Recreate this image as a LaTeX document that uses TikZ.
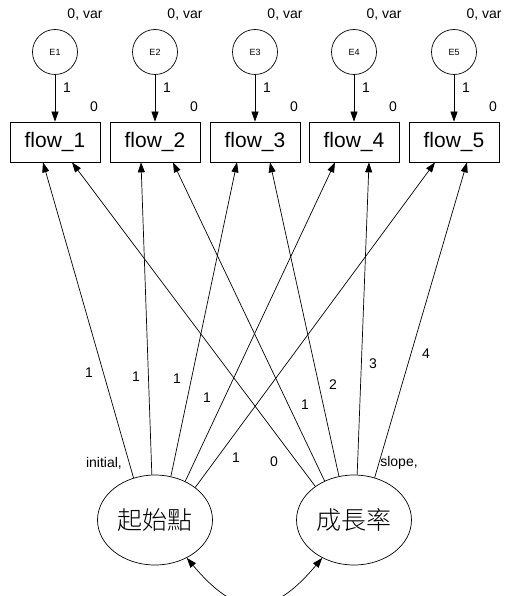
\documentclass[tikz,border=0pt]{standalone}
\usepackage{fontspec}
\setmainfont{Liberation Sans}
\newfontfamily\cjk{Noto Sans CJK TC}[UprightFont={* Light}]
\usetikzlibrary{arrows.meta,shapes.geometric}

\tikzstyle{obsbox} = [draw=black, rectangle, minimum width=90pt, minimum height=40pt, inner sep=0pt, font=\fontsize{21}{21}\selectfont]
\tikzstyle{errcirc} = [draw=black, circle, minimum size=45pt, inner sep=0pt, font=\fontsize{9}{9}\selectfont]
\tikzstyle{latent} = [draw=black, ellipse, minimum width=115pt, minimum height=90pt, inner sep=0pt, font=\cjk\fontsize{25}{25}\selectfont]
\tikzstyle{lbl} = [inner sep=0pt, font=\fontsize{14}{14}\selectfont]
\tikzstyle{regline} = [-{Triangle[length=10pt,width=7pt]}]
\tikzstyle{covline} = [{Triangle[length=10pt,width=7pt]}-{Triangle[length=10pt,width=7pt]}]

\begin{document}
\begin{tikzpicture}[x=1pt, y=1pt, line width=0.7pt]
\useasboundingbox (0,0) rectangle (504,-596);

% error terms
\node[errcirc] (e1) at (55,-52) {E1};
\node[errcirc] (e2) at (155,-52) {E2};
\node[errcirc] (e3) at (255,-52) {E3};
\node[errcirc] (e4) at (354,-52) {E4};
\node[errcirc] (e5) at (454,-52) {E5};
\node[lbl] (v1) at (85,-15) {0, var};
\node[lbl] (v2) at (185,-15) {0, var};
\node[lbl] (v3) at (285,-15) {0, var};
\node[lbl] (v4) at (384,-15) {0, var};
\node[lbl] (v5) at (484,-15) {0, var};

% observed flows
\node[obsbox] (f1) at (55,-142) {flow\_1};
\node[obsbox] (f2) at (155,-142) {flow\_2};
\node[obsbox] (f3) at (255,-142) {flow\_3};
\node[obsbox] (f4) at (354,-142) {flow\_4};
\node[obsbox] (f5) at (454,-142) {flow\_5};
\node[lbl] (m1) at (94,-107) {0};
\node[lbl] (m2) at (194,-107) {0};
\node[lbl] (m3) at (294,-107) {0};
\node[lbl] (m4) at (393,-107) {0};
\node[lbl] (m5) at (493,-107) {0};

\draw[regline] (e1) -- (f1);
\draw[regline] (e2) -- (f2);
\draw[regline] (e3) -- (f3);
\draw[regline] (e4) -- (f4);
\draw[regline] (e5) -- (f5);
\node[lbl] (w1) at (67,-88) {1};
\node[lbl] (w2) at (167,-88) {1};
\node[lbl] (w3) at (267,-88) {1};
\node[lbl] (w4) at (366,-88) {1};
\node[lbl] (w5) at (466,-88) {1};

% growth factors
\node[latent] (init) at (155,-520) {起始點};
\node[latent] (slope) at (354,-520) {成長率};
\node[lbl] (initlbl) at (104,-463) {initial,};
\node[lbl] (slopelbl) at (399,-463) {slope,};

% intercept loadings
\draw[regline] (init.117) -- ([xshift=-12pt]f1.south);
\draw[regline] (init.94) -- ([xshift=-14pt]f2.south);
\draw[regline] (init.70) -- ([xshift=-18pt]f3.south);
\draw[regline] (init.52) -- ([xshift=-19pt]f4.south);
\draw[regline] (init.39) -- ([xshift=-19pt]f5.south);
\node[lbl] (a1) at (89,-373) {1};
\node[lbl] (a2) at (136,-377) {1};
\node[lbl] (a3) at (177,-379) {1};
\node[lbl] (a4) at (207,-398) {1};
\node[lbl] (a5) at (236,-458) {1};

% slope loadings
\draw[regline] (slope.139) -- ([xshift=17pt]f1.south);
\draw[regline] (slope.127) -- ([xshift=18pt]f2.south);
\draw[regline] (slope.109) -- ([xshift=15pt]f3.south);
\draw[regline] (slope.86) -- ([xshift=15pt]f4.south);
\draw[regline] (slope.64) -- ([xshift=13pt]f5.south);
\node[lbl] (b1) at (274,-462) {0};
\node[lbl] (b2) at (305,-405) {1};
\node[lbl] (b3) at (333,-385) {2};
\node[lbl] (b4) at (373,-364) {3};
\node[lbl] (b5) at (426,-354) {4};

% covariance
\draw[covline] (init.-50) to[out=-50, in=-130, looseness=1.5] (slope.-130);
\end{tikzpicture}
\end{document}
